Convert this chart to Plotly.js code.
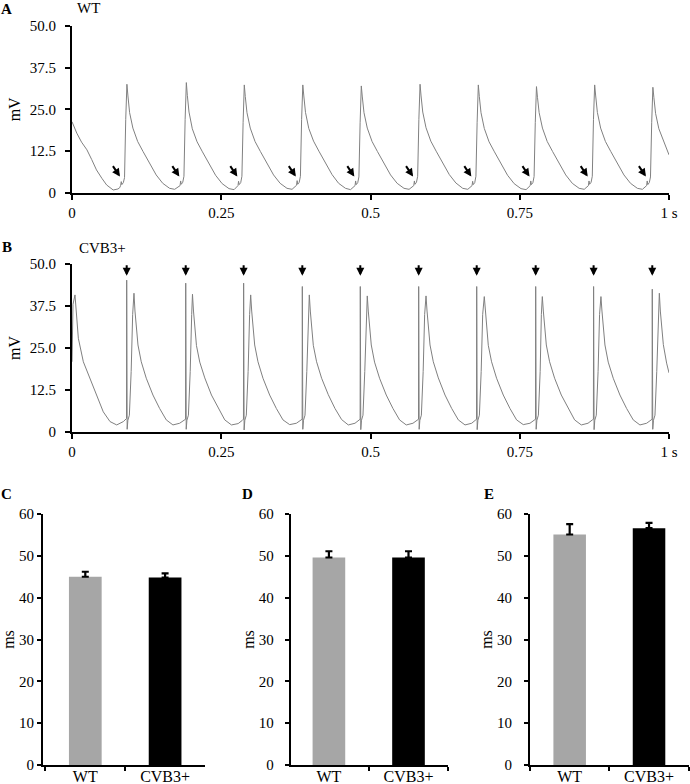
<!DOCTYPE html>
<html>
<head>
<meta charset="utf-8">
<script src="https://cdn.plot.ly/plotly-3.0.1.min.js"></script>
<style>html,body{margin:0;padding:0;background:#fff;}#chart{width:690px;height:784px;}</style>
</head>
<body>
<div id="chart"></div>
<script>
// ---------- Panel A: WT action potential trace (time in s, voltage in mV) ----------
const tA = [
  0, 0.004, 0.008, 0.016, 0.025, 0.033, 0.041, 0.050, 0.058, 0.069, 0.077, 0.080, 0.0815, 0.0825, 0.0835, 0.086, 0.088, 0.090, 0.092,
  0.0937, 0.0965, 0.102, 0.110, 0.119, 0.130, 0.141, 0.152, 0.1635, 0.172, 0.1775, 0.181, 0.182, 0.183, 0.1855, 0.1875, 0.1895, 0.1915,
  0.1932, 0.196, 0.2015, 0.2095, 0.2185, 0.2295, 0.2405, 0.2515, 0.263, 0.2715, 0.277, 0.278, 0.279, 0.280, 0.2826, 0.2846, 0.2866, 0.2886,
  0.2903, 0.2931, 0.2986, 0.3066, 0.3156, 0.3266, 0.3376, 0.3486, 0.3601, 0.3686, 0.3741, 0.3761, 0.3771, 0.3781, 0.3806, 0.3826, 0.3846, 0.3866,
  0.3883, 0.3911, 0.3966, 0.4046, 0.4136, 0.4246, 0.4356, 0.4466, 0.4581, 0.4666, 0.4721, 0.4741, 0.4751, 0.4761, 0.4786, 0.4806, 0.4826, 0.4846,
  0.4863, 0.4891, 0.4946, 0.5026, 0.5116, 0.5226, 0.5336, 0.5446, 0.5561, 0.5646, 0.5701, 0.5725, 0.5735, 0.5745, 0.577, 0.579, 0.581, 0.583,
  0.5847, 0.5875, 0.593, 0.601, 0.610, 0.621, 0.632, 0.643, 0.6545, 0.663, 0.6685, 0.6701, 0.6711, 0.6721, 0.6746, 0.6766, 0.6786, 0.6806,
  0.6823, 0.6851, 0.6906, 0.6986, 0.7076, 0.7186, 0.7296, 0.7406, 0.7521, 0.7606, 0.7661, 0.7675, 0.7685, 0.7695, 0.772, 0.774, 0.776, 0.778,
  0.7797, 0.7825, 0.788, 0.796, 0.805, 0.816, 0.827, 0.838, 0.8495, 0.858, 0.8635, 0.865, 0.866, 0.867, 0.8695, 0.8715, 0.8735, 0.8755,
  0.8772, 0.88, 0.8855, 0.8935, 0.9025, 0.9135, 0.9245, 0.9355, 0.947, 0.9555, 0.961, 0.9625, 0.9635, 0.9645, 0.967, 0.969, 0.971, 0.973,
  0.9747, 0.9775, 0.983, 0.991, 1.0
];
const vA = [
  21.3, 19.5, 17.9, 15.2, 12.9, 10.0, 6.9, 4.4, 2.4, 0.9, 1.2, 1.6, 2.3, 3.4, 2.5, 3.1, 4.6, 22, 32.5,
  29, 24, 19.4, 15.4, 12.4, 8.9, 5.4, 2.9, 1.4, 1.1, 1.9, 2.2, 3.6, 2.6, 3.2, 5, 22, 33,
  29.2, 24.2, 19.2, 15.3, 12.3, 8.8, 5.3, 2.8, 1.3, 1.0, 1.8, 2.2, 3.5, 2.5, 3.1, 5, 21, 32.3,
  28.8, 24, 19.4, 15.4, 12.4, 8.9, 5.4, 2.9, 1.4, 1.1, 1.9, 2.3, 3.7, 2.6, 3.2, 5, 22, 32.3,
  29, 24.1, 19.3, 15.5, 12.5, 8.9, 5.5, 2.9, 1.4, 1.0, 1.8, 2.2, 3.6, 2.5, 3.1, 4.8, 21, 32.0,
  28.7, 24, 19.4, 15.4, 12.4, 8.9, 5.4, 2.9, 1.4, 1.1, 1.9, 2.2, 3.6, 2.6, 3.2, 5, 22, 32.5,
  29, 24.2, 19.5, 15.5, 12.5, 9.0, 5.5, 3.0, 1.4, 1.1, 1.9, 2.2, 3.5, 2.5, 3.1, 5, 21, 32.3,
  28.8, 24, 19.3, 15.3, 12.3, 8.8, 5.3, 2.8, 1.3, 1.0, 1.8, 2.2, 3.6, 2.5, 3.1, 4.9, 21, 31.8,
  28.6, 24, 19.4, 15.4, 12.4, 8.9, 5.4, 2.9, 1.4, 1.1, 1.9, 2.2, 3.6, 2.6, 3.2, 5, 22, 32.3,
  29, 24.1, 19.4, 15.4, 12.4, 8.9, 5.4, 2.9, 1.4, 1.1, 1.9, 2.2, 3.6, 2.5, 3.1, 4.8, 21, 31.6,
  28.5, 23.8, 19.2, 15.3, 11.4
];
// times of the pre-upstroke notches marked by arrows in A
const notchA = [0.0803, 0.1798, 0.2769, 0.3749, 0.4729, 0.5713, 0.6689, 0.7663, 0.8638, 0.9613];

// ---------- Panel B: CVB3+ trace ----------
const tB = [
  0, 0.0017, 0.005, 0.0106, 0.019, 0.0302, 0.0414, 0.0524, 0.0637, 0.0749, 0.086, 0.0905,
  0.0913, 0.0916, 0.0924, 0.0936, 0.0961, 0.0991, 0.1016, 0.1038,
  0.1055, 0.1105, 0.116, 0.1244, 0.1356, 0.1468, 0.1579, 0.1691, 0.1803, 0.1885,
  0.1902, 0.1905, 0.1913, 0.1925, 0.195, 0.198, 0.2005, 0.2018,
  0.2035, 0.2085, 0.214, 0.2224, 0.2336, 0.2448, 0.2559, 0.2671, 0.2783, 0.2855,
  0.2872, 0.2875, 0.2883, 0.2895, 0.292, 0.295, 0.2975, 0.2993,
  0.301, 0.306, 0.3115, 0.3199, 0.3311, 0.3423, 0.3534, 0.3646, 0.3758, 0.3838,
  0.3855, 0.3858, 0.3866, 0.3878, 0.3903, 0.3933, 0.3958, 0.3975,
  0.3992, 0.4042, 0.4097, 0.4181, 0.4293, 0.4405, 0.4516, 0.4628, 0.474, 0.4809,
  0.4826, 0.4829, 0.4837, 0.4849, 0.4874, 0.4904, 0.4929, 0.4946,
  0.4963, 0.5013, 0.5068, 0.5152, 0.5264, 0.5376, 0.5487, 0.5599, 0.5711, 0.5787,
  0.5804, 0.5807, 0.5815, 0.5827, 0.5852, 0.5882, 0.5907, 0.593,
  0.5947, 0.5997, 0.6052, 0.6136, 0.6248, 0.636, 0.6471, 0.6583, 0.6695, 0.6759,
  0.6776, 0.6779, 0.6787, 0.6799, 0.6824, 0.6854, 0.6879, 0.6906,
  0.6923, 0.6973, 0.7028, 0.7112, 0.7224, 0.7336, 0.7447, 0.7559, 0.7671, 0.7747,
  0.7764, 0.7767, 0.7775, 0.7787, 0.7812, 0.7842, 0.7862, 0.7878,
  0.7895, 0.7945, 0.8, 0.8084, 0.8196, 0.8308, 0.8419, 0.8531, 0.8643, 0.8717,
  0.8734, 0.8737, 0.8745, 0.8757, 0.8782, 0.8812, 0.8837, 0.886,
  0.8877, 0.8927, 0.8982, 0.9066, 0.9178, 0.929, 0.9401, 0.9513, 0.9625, 0.97,
  0.9717, 0.972, 0.9728, 0.974, 0.9765, 0.9795, 0.982, 0.9838,
  0.9855, 0.9905, 0.996, 1.0
];
const vB = [
  20.9, 38, 40.8, 27.9, 20.9, 16, 11, 6, 3.1, 2.1, 3.1, 4.1,
  4.0, 45.2, 0.8, 3.5, 5, 18, 35, 41.3,
  36, 25.9, 20.9, 16, 11, 7, 3.6, 2.1, 2.6, 3.6,
  3.8, 44.3, 0.8, 3.5, 5, 18, 35, 41.0,
  36, 25.7, 20.8, 16.1, 11, 7.1, 3.6, 2.1, 2.5, 3.5,
  3.8, 44.3, 0.6, 3.5, 5, 18, 35, 40.8,
  36, 25.9, 20.9, 16, 11, 7, 3.6, 2.2, 2.6, 3.6,
  3.8, 43.3, 0.8, 3.5, 5, 18, 35, 40.8,
  36, 25.8, 20.9, 16, 11.1, 7, 3.7, 2.1, 2.6, 3.6,
  3.8, 43.3, 0.7, 3.5, 5, 18, 35, 40.5,
  36, 25.9, 20.8, 16, 11, 7, 3.6, 2.1, 2.6, 3.6,
  3.8, 43.3, 0.8, 3.5, 5, 18, 35, 40.5,
  36, 25.9, 20.9, 16.1, 11, 7, 3.6, 2.1, 2.6, 3.6,
  3.8, 43.3, 0.7, 3.5, 5, 18, 35, 40.3,
  36, 25.8, 20.9, 16, 11, 7, 3.6, 2.2, 2.6, 3.6,
  3.8, 43.3, 0.8, 3.5, 5, 18, 35, 40.3,
  36, 25.9, 20.9, 16, 11, 7.1, 3.6, 2.1, 2.6, 3.6,
  3.8, 43.3, 0.7, 3.5, 5, 18, 35, 40.3,
  36, 25.9, 20.8, 16, 11, 7, 3.6, 2.1, 2.6, 3.6,
  3.8, 42.5, 0.8, 3.5, 5, 18, 35, 41.3,
  36, 26, 20.5, 17.6
];
// stimulus artefact times marked by arrows in B
const stimB = [0.0916, 0.1905, 0.2875, 0.3858, 0.4829, 0.5807, 0.6779, 0.7767, 0.8737, 0.972];

// ---------- Panels C, D, E: bar charts (ms) ----------
const groups = ['WT', 'CVB3+'];
const meanC = [45.0, 44.8];
const errC  = [1.2, 1.0];
const meanD = [49.6, 49.6];
const errD  = [1.5, 1.5];
const meanE = [55.1, 56.6];
const errE  = [2.5, 1.3];
const barColors = ['#a6a6a6', '#000000'];

const traceTicksX = [0, 0.25, 0.5, 0.75, 1];
const traceTickTextX = ['0', '0.25', '0.5', '0.75', '1 s'];
const traceTicksY = [0, 12.5, 25, 37.5, 50];
const traceTickTextY = ['0', '12.5', '25.0', '37.5', '50.0'];

// ---------- build ----------
const FONT = 'Liberation Serif, Times New Roman, serif';
const W = 690, H = 784;
const px = x => x / W;
const py = y => 1 - y / H;

const lineStyle = {color: '#808080', width: 1};
const data = [
  {type: 'scatter', mode: 'lines', x: tA, y: vA, xaxis: 'x', yaxis: 'y', line: lineStyle, hoverinfo: 'skip'},
  {type: 'scatter', mode: 'lines', x: tB, y: vB, xaxis: 'x2', yaxis: 'y2', line: lineStyle, hoverinfo: 'skip'}
];
const bars = [[meanC, errC, 'x3', 'y3'], [meanD, errD, 'x4', 'y4'], [meanE, errE, 'x5', 'y5']];
bars.forEach(([m, e, xa, ya]) => {
  data.push({
    type: 'bar', x: groups, y: m, xaxis: xa, yaxis: ya, width: 0.41,
    marker: {color: barColors, line: {width: 0}},
    error_y: {type: 'data', array: e, arrayminus: [0, 0], symmetric: false, color: '#000', thickness: 2.2, width: 3.5},
    hoverinfo: 'skip'
  });
});

const axisBase = {
  showline: true, linecolor: '#000', linewidth: 2, mirror: false,
  ticks: 'outside', tickcolor: '#000', tickwidth: 2, ticklen: 5,
  showgrid: false, zeroline: false, fixedrange: true,
  tickfont: {family: FONT, size: 15, color: '#000'}
};

function traceX(anchor) {
  return Object.assign({}, axisBase, {
    domain: [px(72), px(669)], range: [0, 1], anchor: anchor,
    tickmode: 'array', tickvals: traceTicksX, ticktext: traceTickTextX, ticklabelstandoff: 0
  });
}
function traceY(anchor, top, bottom) {
  return Object.assign({}, axisBase, {
    domain: [py(bottom), py(top)], range: [0, 50], anchor: anchor,
    tickmode: 'array', tickvals: traceTicksY, ticktext: traceTickTextY, ticklabelstandoff: 6,
    title: {text: 'mV', font: {family: FONT, size: 16, color: '#000'}, standoff: 5}
  });
}
function barX(anchor, left, right, r0) {
  return Object.assign({}, axisBase, {
    domain: [px(left), px(right)], type: 'category', range: [r0, 1.5], anchor: anchor,
    tickson: 'boundaries', ticklen: 4, ticklabelstandoff: -4,
    tickfont: {family: FONT, size: 16, color: '#000'}
  });
}
function barY(anchor, standoffLbl, titleStandoff) {
  return Object.assign({}, axisBase, {
    domain: [py(765), py(514)], range: [0, 60], anchor: anchor, dtick: 10, tick0: 0, ticklen: 4,
    ticklabelstandoff: standoffLbl,
    title: {text: 'ms', font: {family: FONT, size: 16, color: '#000'}, standoff: titleStandoff}
  });
}

const annotations = [];
const txt = (text, x, y, bold, size) => annotations.push({
  text: bold ? '<b>' + text + '</b>' : text, xref: 'paper', yref: 'paper',
  x: px(x), y: py(y), xanchor: 'center', yanchor: 'middle', showarrow: false,
  font: {family: FONT, size: size, color: '#000'}
});
txt('A', 7, 9, true, 15);
txt('WT', 88, 8, false, 15);
txt('B', 7, 247, true, 15);
txt('CVB3+', 102, 248, false, 15);
txt('C', 7, 494, true, 15);
txt('D', 247, 494, true, 15);
txt('E', 489, 494, true, 15);

notchA.forEach(t => annotations.push({
  x: t, y: 4.9, xref: 'x', yref: 'y', ax: -8, ay: -12, showarrow: true,
  arrowhead: 2, arrowsize: 0.8, arrowwidth: 2, arrowcolor: '#000', standoff: 0, text: ''
}));
stimB.forEach(t => annotations.push({
  x: t, y: 46.5, xref: 'x2', yref: 'y2', ax: 0, ay: -12, showarrow: true,
  arrowhead: 2, arrowsize: 0.8, arrowwidth: 2, arrowcolor: '#000', standoff: 0, text: ''
}));

const layout = {
  width: W, height: H, margin: {l: 0, r: 0, t: 0, b: 0},
  paper_bgcolor: '#fff', plot_bgcolor: '#fff', showlegend: false,
  font: {family: FONT, color: '#000'},
  xaxis: traceX('y'),
  yaxis: traceY('x', 25.7, 193),
  xaxis2: traceX('y2'),
  yaxis2: traceY('x2', 264, 432),
  xaxis3: barX('y3', 43, 205, -0.53),
  yaxis3: barY('x3', 0, 16),
  xaxis4: barX('y4', 290.7, 448.3, -0.48),
  yaxis4: barY('x4', 8, 0),
  xaxis5: barX('y5', 530, 688.7, -0.5),
  yaxis5: barY('x5', 9, 0),
  annotations: annotations
};

Plotly.newPlot('chart', data, layout, {staticPlot: true, displayModeBar: false});
</script>
</body>
</html>
